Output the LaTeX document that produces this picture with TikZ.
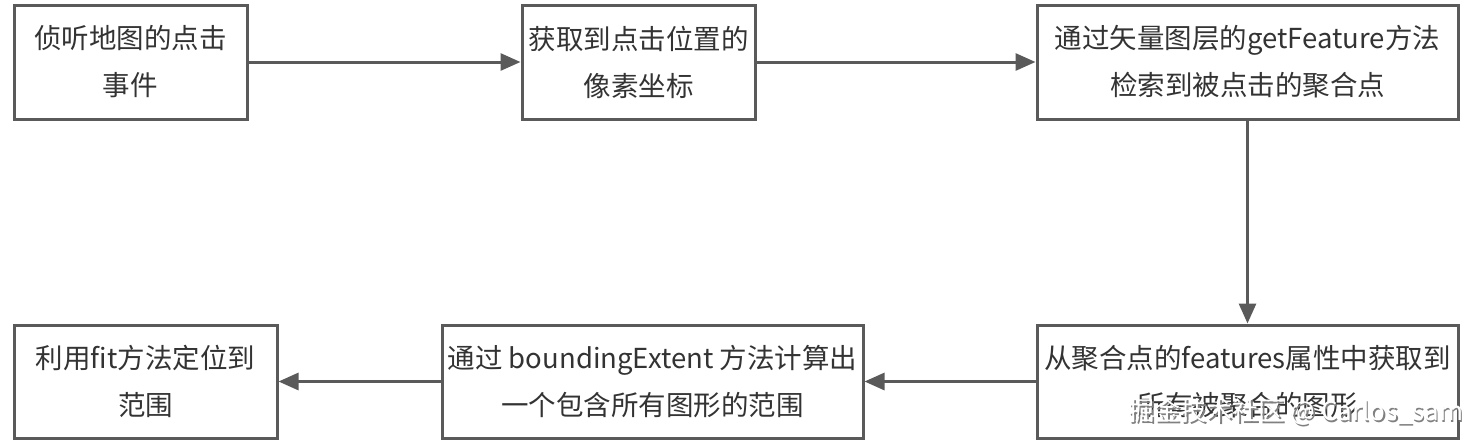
\documentclass[tikz,border=0pt]{standalone}
\usepackage{fontspec}
\setmainfont{Noto Sans CJK SC}
\usetikzlibrary{arrows.meta}
\definecolor{edgegray}{HTML}{5A5A5A}
\definecolor{textgray}{HTML}{333333}
\tikzset{
  flowbox/.style={draw=edgegray, line width=3pt, fill=white, align=center, text=textgray,
    font=\fontsize{27.5}{47}\selectfont, inner sep=0pt},
  flowarrow/.style={draw=edgegray, line width=3pt, -{Triangle[length=20pt,width=17pt]}}
}
\begin{document}
\begin{tikzpicture}[x=1pt,y=-1pt]
\useasboundingbox (0,0) rectangle (1477,445);
\node[flowbox, minimum width=233pt, minimum height=114pt] (b1) at (130.5,62) {侦听地图的点击\\事件};
\node[flowbox, minimum width=233pt, minimum height=114pt] (b2) at (638.5,62) {获取到点击位置的\\像素坐标};
\node[flowbox, minimum width=421pt, minimum height=114pt] (b3) at (1247.5,62) {通过矢量图层的getFeature方法\\检索到被点击的聚合点};
\node[flowbox, minimum width=421pt, minimum height=113pt] (b4) at (1247.5,381.5) {从聚合点的features属性中获取到\\所有被聚合的图形};
\node[flowbox, minimum width=421pt, minimum height=113pt] (b5) at (652.5,381.5) {通过 boundingExtent 方法计算出\\一个包含所有图形的范围};
\node[flowbox, minimum width=263pt, minimum height=113pt] (b6) at (145.5,381.5) {利用fit方法定位到\\范围};
\draw[flowarrow] (b1) -- (b2);
\draw[flowarrow] (b2) -- (b3);
\draw[flowarrow] (b3) -- (b4);
\draw[flowarrow] (b4) -- (b5);
\draw[flowarrow] (b5) -- (b6);
\node[text=gray, font=\fontsize{26}{30}\selectfont, inner sep=0pt] (wmshadow) at (1297.5,413.5) {掘金技术社区 @ Carlos\_sam};
\node[text=white, font=\fontsize{26}{30}\selectfont, inner sep=0pt] (wm) at (1296,412) {掘金技术社区 @ Carlos\_sam};
\end{tikzpicture}
\end{document}
